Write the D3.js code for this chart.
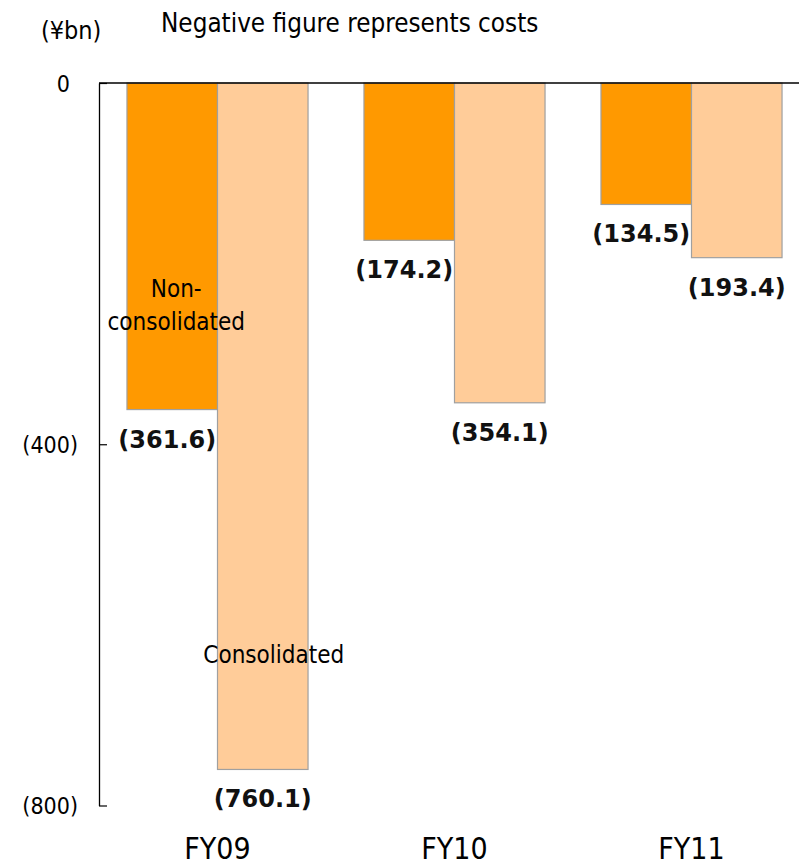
<!DOCTYPE html>
<html>
<head>
<meta charset="utf-8">
<script src="https://cdn.jsdelivr.net/npm/d3@7"></script>
<style>
  body { margin: 0; background: #fff; }
  svg { display: block; }
  .txt { font-family: "DejaVu Sans Condensed", "DejaVu Sans", sans-serif; fill: #000; }
  .val { font-family: "DejaVu Sans", sans-serif; font-weight: bold; font-size: 24px; fill: #111; }
</style>
</head>
<body>
<svg id="chart" width="799" height="861"></svg>
<script>

// chart values (costs in ¥bn)
var years = ["FY09", "FY10", "FY11"];
var seriesNames = ["Non-consolidated", "Consolidated"];
var nonConsolidated = [361.6, 174.2, 134.5];
var consolidated = [760.1, 354.1, 193.4];
var yTicks = [0, 400, 800];

var chart = {};

function setup() {
    chart.svg = d3.select("#chart");
    chart.colors = d3.scaleOrdinal().domain(seriesNames).range(["#FF9900", "#FFCC99"]);

    chart.y = d3.scaleLinear()
                .domain([0, 800])
                .range([83, 805.5]);

    chart.x0 = d3.scaleBand()
                 .domain(years)
                 .range([99, 810])
                 .paddingInner(0.236)
                 .paddingOuter(0.118);

    chart.x1 = d3.scaleBand()
                 .domain(seriesNames)
                 .range([0, chart.x0.bandwidth()]);

    var rows = years.map((yr, i) => ({
        year: yr,
        values: [
            {name: seriesNames[0], value: nonConsolidated[i]},
            {name: seriesNames[1], value: consolidated[i]}
        ]
    }));

    // bars
    var groups = chart.svg.append("g")
        .selectAll("g")
        .data(rows)
        .join("g")
        .attr("transform", d => `translate(${chart.x0(d.year)},0)`);

    groups.selectAll("rect")
        .data(d => d.values)
        .join("rect")
        .attr("x", d => chart.x1(d.name))
        .attr("y", chart.y(0))
        .attr("width", chart.x1.bandwidth())
        .attr("height", d => chart.y(d.value) - chart.y(0))
        .attr("fill", d => chart.colors(d.name))
        .attr("stroke", "#A0A0A0")
        .attr("stroke-width", 1.2);

    // value labels under each bar (orange ones sit a touch left)
    groups.selectAll("text.val")
        .data(d => d.values)
        .join("text")
        .attr("class", "val")
        .attr("x", d => chart.x1(d.name) + chart.x1.bandwidth() / 2 + (d.name === seriesNames[0] ? -5 : 0))
        .attr("y", d => chart.y(d.value) + 38)
        .attr("text-anchor", "middle")
        .text(d => "(" + d.value.toFixed(1) + ")");

    // zero line across the plot
    chart.svg.append("line")
        .attr("x1", 99).attr("x2", 799)
        .attr("y1", chart.y(0)).attr("y2", chart.y(0))
        .attr("stroke", "#000")
        .attr("stroke-width", 1.5);

    // y axis, ticks pointing inward
    var yAxis = chart.svg.append("g")
        .attr("transform", "translate(99,0)")
        .call(d3.axisLeft(chart.y)
                .tickValues(yTicks)
                .tickSizeInner(-8)
                .tickSizeOuter(0)
                .tickPadding(21)
                .tickFormat(d => d === 0 ? "0" : "(" + d + ")"));
    yAxis.select(".domain").attr("stroke", "#000").attr("stroke-width", 1.3);
    yAxis.selectAll(".tick line").attr("stroke", "#000").attr("stroke-width", 1.2);
    yAxis.selectAll(".tick text")
        .attr("class", "txt")
        .style("font-size", "23px")
        .attr("dy", "0.36em")
        .attr("dx", d => d === 0 ? -8 : 0);
    yAxis.attr("font-family", null).attr("font-size", null);

    // category labels along the bottom
    chart.svg.append("g")
        .selectAll("text")
        .data(years)
        .join("text")
        .attr("class", "txt")
        .style("font-size", "30px")
        .attr("x", d => chart.x0(d) + chart.x0.bandwidth() / 2)
        .attr("y", 859)
        .attr("text-anchor", "middle")
        .text(d => d);

    // unit + note
    chart.svg.append("text")
        .attr("class", "txt")
        .style("font-size", "25px")
        .attr("x", 41).attr("y", 39)
        .text("(¥bn)");

    chart.svg.append("text")
        .attr("class", "txt")
        .style("font-size", "25.8px")
        .attr("x", 161).attr("y", 32)
        .text("Negative figure represents costs");

    // series annotations inside the FY09 bars
    var cx0 = chart.x0(years[0]) + chart.x1(seriesNames[0]) + chart.x1.bandwidth() / 2;
    var cx1 = chart.x0(years[0]) + chart.x1(seriesNames[1]) + chart.x1.bandwidth() / 2;

    var nonLbl = chart.svg.append("text")
        .attr("class", "txt")
        .style("font-size", "24px")
        .attr("text-anchor", "middle");
    nonLbl.append("tspan").attr("x", cx0 + 4).attr("y", chart.y(237)).text("Non-");
    nonLbl.append("tspan").attr("x", cx0 + 4).attr("dy", 33).text("consolidated");

    chart.svg.append("text")
        .attr("class", "txt")
        .style("font-size", "24px")
        .attr("text-anchor", "middle")
        .attr("x", cx1 + 11)
        .attr("y", chart.y(642))
        .text("Consolidated");
}

window.addEventListener("load", setup);
</script>
</body>
</html>
